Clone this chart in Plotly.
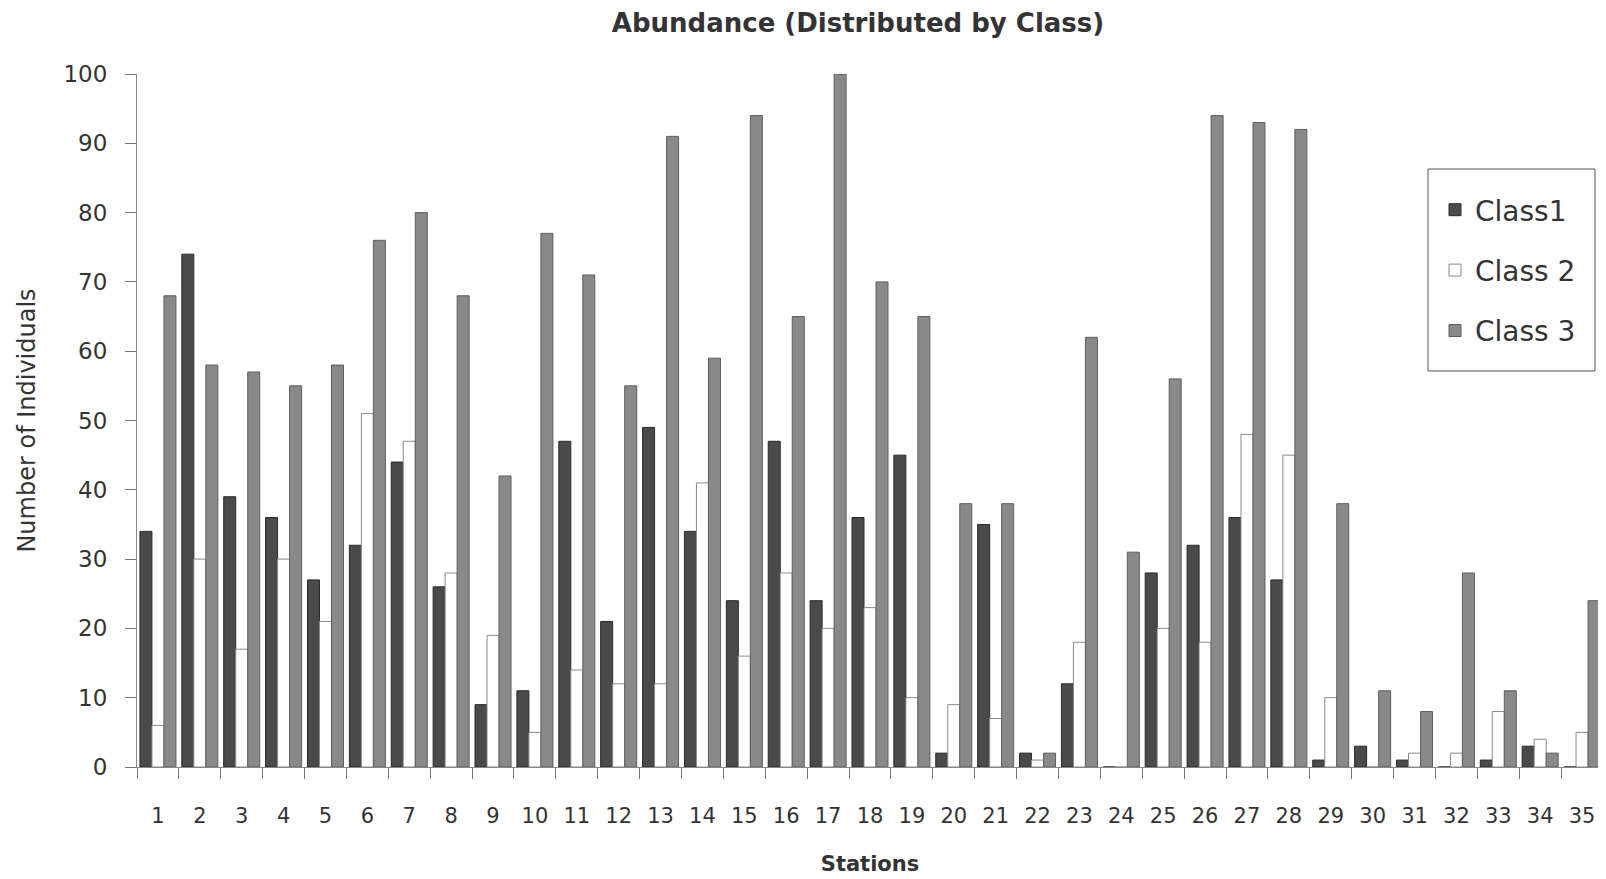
import plotly.graph_objects as go

stations = [str(i) for i in range(1, 36)]
class1 = [34, 74, 39, 36, 27, 32, 44, 26, 9, 11, 47, 21, 49, 34, 24, 47, 24, 36, 45, 2,
          35, 2, 12, 0, 28, 32, 36, 27, 1, 3, 1, 0, 1, 3, 0]
class2 = [6, 30, 17, 30, 21, 51, 47, 28, 19, 5, 14, 12, 12, 41, 16, 28, 20, 23, 10, 9,
          7, 1, 18, 0, 20, 18, 48, 45, 10, 0, 2, 2, 8, 4, 5]
class3 = [68, 58, 57, 55, 58, 76, 80, 68, 42, 77, 71, 55, 91, 59, 94, 65, 100, 70, 65, 38,
          38, 2, 62, 31, 56, 94, 93, 92, 38, 11, 8, 28, 11, 2, 24]
y_ticks = [0, 10, 20, 30, 40, 50, 60, 70, 80, 90, 100]

FONT = "DejaVu Sans"
TXT = "#333333"
W, H = 1598, 871
ML, MR, MT, MB = 129, 3, 66, 112
PW = W - ML - MR
PH = H - MT - MB


def px_to_paper_x(px):
    return (px - ML) / PW


def px_to_paper_y(py):
    return (H - MB - py) / PH


fig = go.Figure()
fig.add_trace(go.Bar(x=stations, y=class1, name="Class1", legendgroup="a",
                     marker=dict(color="#4a4a4a", line=dict(color="#2a2a2a", width=1))))
fig.add_trace(go.Bar(x=stations, y=class2, name="Class 2", legendgroup="b",
                     marker=dict(color="#ffffff", line=dict(color="#8a8a8a", width=1))))
fig.add_trace(go.Bar(x=stations, y=class3, name="Class 3", legendgroup="c",
                     marker=dict(color="#898989", line=dict(color="#5e5e5e", width=1))))

# legend frame
fig.add_shape(type="rect", xref="paper", yref="paper",
              x0=px_to_paper_x(1420), x1=px_to_paper_x(1587),
              y0=px_to_paper_y(363), y1=px_to_paper_y(161),
              line=dict(color="#555555", width=1), fillcolor="white", layer="above")

fig.update_layout(
    width=W, height=H,
    paper_bgcolor="white", plot_bgcolor="white",
    margin=dict(l=ML, r=MR, t=MT, b=MB, autoexpand=False),
    barmode="group", bargap=0.14, bargroupgap=0,
    font=dict(family=FONT, color=TXT),
    title=dict(text="<b>Abundance (Distributed by Class)</b>",
               x=850 / W, xanchor="center", xref="container",
               y=1 - 15 / H, yanchor="middle", yref="container",
               font=dict(family=FONT, size=26, color=TXT)),
    legend=dict(x=px_to_paper_x(1427), y=px_to_paper_y(177), xanchor="left", yanchor="top",
                borderwidth=0, bgcolor="rgba(0,0,0,0)",
                font=dict(family=FONT, size=28, color=TXT),
                tracegroupgap=21, itemwidth=30),
    showlegend=True,
)

fig.update_xaxes(
    type="category", categoryorder="array", categoryarray=stations,
    tickson="boundaries", ticks="outside", ticklen=11, tickcolor="#777777",
    showline=True, linecolor="#888888", linewidth=1,
    showgrid=False, zeroline=False, automargin=False,
    tickfont=dict(family=FONT, size=21, color=TXT),
    ticklabelstandoff=30,
    title=dict(text="<b>Stations</b>", font=dict(family=FONT, size=21, color=TXT), standoff=29),
)
fig.update_yaxes(
    range=[0, 100], tickvals=y_ticks, ticks="outside", ticklen=11, tickcolor="#777777",
    showline=True, linecolor="#888888", linewidth=1,
    showgrid=False, zeroline=False, automargin=False,
    tickfont=dict(family=FONT, size=23, color=TXT),
    ticklabelstandoff=13,
    title=dict(text="Number of Individuals", font=dict(family=FONT, size=24, color=TXT), standoff=21),
)

fig.write_html("out.html")
